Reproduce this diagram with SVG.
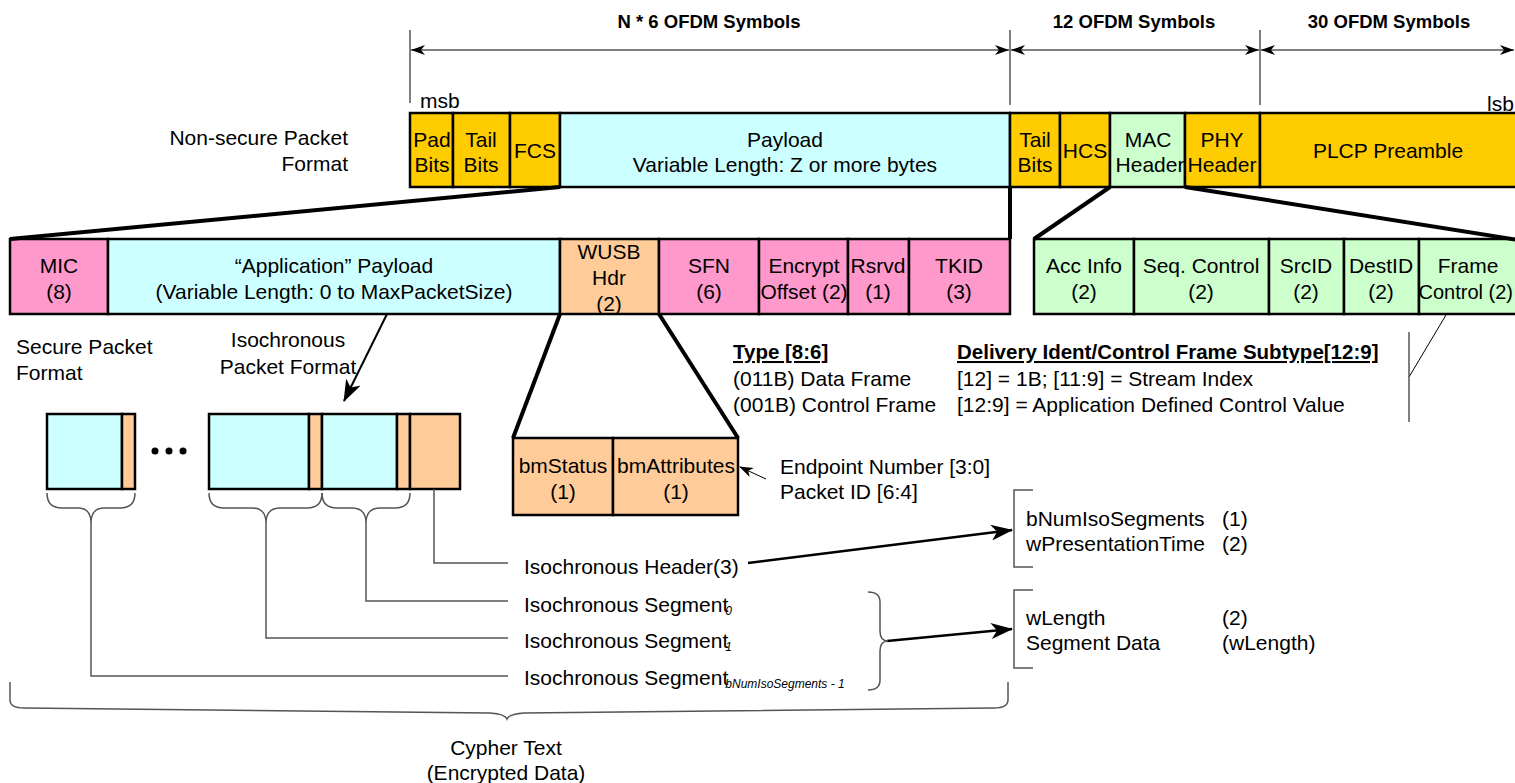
<svg xmlns="http://www.w3.org/2000/svg" width="1515" height="783" viewBox="0 0 1515 783">
  <style>
    text { font-family: "Liberation Sans", Arial, sans-serif; font-size: 21px; fill: #000; }
    .c { text-anchor: middle; }
    .r { text-anchor: end; }
    .dimt { font-weight: bold; font-size: 18.5px; text-anchor: middle; }
    .hd { font-weight: bold; font-size: 20.5px; text-decoration: underline; }
    .sub { font-size: 12px; font-style: italic; }
    .f { stroke: #000; stroke-width: 2.5; }
    .gold { fill: #FFCC00; }
    .cyan { fill: #CCFFFF; }
    .pink { fill: #FF99CC; }
    .green { fill: #CCFFCC; }
    .peach { fill: #FFCC99; }
    .thick { stroke: #000; stroke-width: 4; fill: none; }
    .thin { stroke: #555; stroke-width: 1.5; fill: none; }
    .dim { stroke: #555; stroke-width: 1.5; fill: none; }
    .conn { stroke: #000; stroke-width: 2.5; fill: none; }
  </style>
  <defs>
    <marker id="dimArrow" viewBox="0 0 14 10" refX="14" refY="5" markerWidth="14" markerHeight="10" markerUnits="userSpaceOnUse" orient="auto-start-reverse">
      <path d="M0,0 L14,5 L0,10 L4,5 Z" fill="#000"/>
    </marker>
    <marker id="bigArrow" viewBox="0 0 22 16" refX="21" refY="8" markerWidth="22" markerHeight="16" markerUnits="userSpaceOnUse" orient="auto">
      <path d="M0,0 L22,8 L0,16 L6,8 Z" fill="#000"/>
    </marker>
    <marker id="smallArrow" viewBox="0 0 14 10" refX="13" refY="5" markerWidth="14" markerHeight="10" markerUnits="userSpaceOnUse" orient="auto">
      <path d="M0,0 L14,5 L0,10 L4,5 Z" fill="#000"/>
    </marker>
  </defs>

  <!-- symbol-count dimensions across the top -->
  <g id="dimensions">
    <line class="dim" x1="410" y1="30" x2="410" y2="103"/>
    <line class="dim" x1="1010" y1="30" x2="1010" y2="105"/>
    <line class="dim" x1="1260" y1="30" x2="1260" y2="105"/>
    <line class="dim" x1="411" y1="50" x2="1009" y2="50" marker-start="url(#dimArrow)" marker-end="url(#dimArrow)"/>
    <line class="dim" x1="1011" y1="50" x2="1259" y2="50" marker-start="url(#dimArrow)" marker-end="url(#dimArrow)"/>
    <line class="dim" x1="1261" y1="50" x2="1514" y2="50" marker-start="url(#dimArrow)" marker-end="url(#dimArrow)"/>
    <text class="dimt" x="709" y="28">N * 6 OFDM Symbols</text>
    <text class="dimt" x="1134" y="28">12 OFDM Symbols</text>
    <text class="dimt" x="1389" y="28">30 OFDM Symbols</text>
    <text x="420" y="108">msb</text>
    <text x="1487" y="111">lsb</text>
  </g>

  <!-- side labels -->
  <g id="labels">
    <text class="r" x="348" y="145">Non-secure Packet</text>
    <text class="r" x="348" y="171">Format</text>
    <text x="16" y="354">Secure Packet</text>
    <text x="16" y="380">Format</text>
    <text class="c" x="288" y="347">Isochronous</text>
    <text class="c" x="288" y="374">Packet Format</text>
  </g>

  <!-- non-secure packet row -->
  <g id="pad-bits"><rect class="f gold" x="410" y="113" width="43" height="74"/><text class="c" x="432" y="147">Pad</text><text class="c" x="432" y="172">Bits</text></g>
  <g id="tail-bits-1"><rect class="f gold" x="453" y="113" width="57" height="74"/><text class="c" x="481" y="147">Tail</text><text class="c" x="481" y="172">Bits</text></g>
  <g id="fcs"><rect class="f gold" x="510" y="113" width="50" height="74"/><text class="c" x="535" y="158">FCS</text></g>
  <g id="payload"><rect class="f cyan" x="560" y="113" width="450" height="74"/><text class="c" x="785" y="147">Payload</text><text class="c" x="785" y="172">Variable Length: Z or more bytes</text></g>
  <g id="tail-bits-2"><rect class="f gold" x="1010" y="113" width="50" height="74"/><text class="c" x="1035" y="147">Tail</text><text class="c" x="1035" y="172">Bits</text></g>
  <g id="hcs"><rect class="f gold" x="1060" y="113" width="50" height="74"/><text class="c" x="1085" y="158">HCS</text></g>
  <g id="mac-header"><rect class="f green" x="1110" y="113" width="75" height="74"/><text class="c" x="1148" y="147">MAC</text><text class="c" x="1150" y="172">Header</text></g>
  <g id="phy-header"><rect class="f gold" x="1185" y="113" width="75" height="74"/><text class="c" x="1222" y="147">PHY</text><text class="c" x="1222" y="172">Header</text></g>
  <g id="plcp-preamble"><rect class="f gold" x="1260" y="113" width="258" height="74"/><text class="c" x="1388" y="158">PLCP Preamble</text></g>

  <!-- secure packet row -->
  <g id="mic"><rect class="f pink" x="10" y="239" width="98" height="75"/><text class="c" x="59" y="273">MIC</text><text class="c" x="59" y="299">(8)</text></g>
  <g id="app-payload"><rect class="f cyan" x="108" y="239" width="452" height="75"/><text class="c" x="334" y="273">“Application” Payload</text><text class="c" x="334" y="299">(Variable Length:  0 to MaxPacketSize)</text></g>
  <g id="wusb-hdr"><rect class="f peach" x="560" y="239" width="99" height="75"/><text class="c" x="609" y="259">WUSB</text><text class="c" x="609" y="285">Hdr</text><text class="c" x="609" y="311">(2)</text></g>
  <g id="sfn"><rect class="f pink" x="659" y="239" width="100" height="75"/><text class="c" x="709" y="273">SFN</text><text class="c" x="709" y="299">(6)</text></g>
  <g id="encrypt-offset"><rect class="f pink" x="759" y="239" width="89" height="75"/><text class="c" x="804" y="273">Encrypt</text><text class="c" x="804" y="299">Offset (2)</text></g>
  <g id="rsrvd"><rect class="f pink" x="848" y="239" width="61" height="75"/><text class="c" x="878" y="273">Rsrvd</text><text class="c" x="878" y="299">(1)</text></g>
  <g id="tkid"><rect class="f pink" x="909" y="239" width="101" height="75"/><text class="c" x="959" y="273">TKID</text><text class="c" x="959" y="299">(3)</text></g>

  <!-- MAC header fields -->
  <g id="acc-info"><rect class="f green" x="1034" y="239" width="100" height="75"/><text class="c" x="1084" y="273">Acc Info</text><text class="c" x="1084" y="299">(2)</text></g>
  <g id="seq-control"><rect class="f green" x="1134" y="239" width="135" height="75"/><text class="c" x="1201" y="273">Seq. Control</text><text class="c" x="1201" y="299">(2)</text></g>
  <g id="src-id"><rect class="f green" x="1269" y="239" width="75" height="75"/><text class="c" x="1306" y="273">SrcID</text><text class="c" x="1306" y="299">(2)</text></g>
  <g id="dest-id"><rect class="f green" x="1344" y="239" width="75" height="75"/><text class="c" x="1381" y="273">DestID</text><text class="c" x="1381" y="299">(2)</text></g>
  <g id="frame-control"><rect class="f green" x="1419" y="239" width="99" height="75"/><text class="c" x="1468" y="273">Frame</text><text class="r" x="1513" y="299" style="font-size:20px">Control (2)</text></g>

  <!-- WUSB header fields -->
  <g id="bm-status"><rect class="f peach" x="513" y="438" width="100" height="77"/><text class="c" x="563" y="473">bmStatus</text><text class="c" x="563" y="499">(1)</text></g>
  <g id="bm-attributes"><rect class="f peach" x="613" y="438" width="125" height="77"/><text class="c" x="676" y="473">bmAttributes</text><text class="c" x="676" y="499">(1)</text></g>

  <!-- isochronous packet layout -->
  <g id="iso-segment-last">
    <rect class="f cyan" x="47" y="414" width="75" height="75"/>
    <rect class="f peach" x="122" y="414" width="13" height="75"/>
  </g>
  <g id="ellipsis">
    <circle cx="155" cy="451" r="3.5"/><circle cx="169" cy="451" r="3.5"/><circle cx="183" cy="451" r="3.5"/>
  </g>
  <g id="iso-segments">
    <rect class="f cyan" x="209" y="414" width="100" height="75"/>
    <rect class="f peach" x="309" y="414" width="13" height="75"/>
    <rect class="f cyan" x="322" y="414" width="75" height="75"/>
    <rect class="f peach" x="397" y="414" width="13" height="75"/>
    <rect class="f peach" x="410" y="414" width="50" height="75"/>
  </g>

  <!-- field descriptions -->
  <g id="type-notes">
    <text class="hd" x="733" y="359">Type [8:6]</text>
    <text x="733" y="386">(011B) Data Frame</text>
    <text x="733" y="412">(001B) Control Frame</text>
  </g>
  <g id="delivery-notes">
    <text class="hd" x="957" y="359">Delivery Ident/Control Frame Subtype[12:9]</text>
    <text x="957" y="386">[12] = 1B; [11:9] = Stream Index</text>
    <text x="957" y="412">[12:9] = Application Defined Control Value</text>
  </g>
  <g id="endpoint-notes">
    <text x="780" y="474">Endpoint Number [3:0]</text>
    <text x="780" y="499">Packet ID [6:4]</text>
  </g>
  <g id="iso-labels">
    <text x="524" y="574">Isochronous Header(3)</text>
    <text x="524" y="612">Isochronous Segment<tspan class="sub" dx="-3" dy="3">0</tspan></text>
    <text x="524" y="648">Isochronous Segment<tspan class="sub" dx="-3" dy="3">1</tspan></text>
    <text x="524" y="685">Isochronous Segment<tspan class="sub" dx="-3" dy="3">bNumIsoSegments - 1</tspan></text>
  </g>
  <g id="iso-header-fields">
    <path class="thin" d="M1033,490 H1014 V567 H1033"/>
    <text x="1026" y="526">bNumIsoSegments</text>
    <text x="1222" y="526">(1)</text>
    <text x="1026" y="551">wPresentationTime</text>
    <text x="1222" y="551">(2)</text>
  </g>
  <g id="iso-segment-fields">
    <path class="thin" d="M1033,590 H1014 V668 H1033"/>
    <text x="1026" y="625">wLength</text>
    <text x="1222" y="625">(2)</text>
    <text x="1026" y="650">Segment Data</text>
    <text x="1222" y="650">(wLength)</text>
  </g>
  <g id="cypher-text">
    <text class="c" x="506" y="755">Cypher Text</text>
    <text class="c" x="506" y="780">(Encrypted Data)</text>
  </g>

  <!-- connectors -->
  <g id="connectors">
    <line class="thick" x1="560" y1="187" x2="10" y2="239"/>
    <line class="thick" x1="1010" y1="187" x2="1010" y2="239"/>
    <line class="thick" x1="1110" y1="187" x2="1034" y2="239"/>
    <line class="thick" x1="1185" y1="187" x2="1518" y2="240"/>
    <line class="thick" x1="560" y1="314" x2="513" y2="438"/>
    <line class="thick" x1="659" y1="314" x2="738" y2="438"/>
    <line stroke="#000" stroke-width="1" x1="1446" y1="315" x2="1409" y2="377"/>
    <line class="thin" x1="1409" y1="332" x2="1409" y2="422"/>
    <line stroke="#000" stroke-width="2" x1="387" y1="314" x2="344" y2="401" marker-end="url(#bigArrow)"/>
    <line stroke="#000" stroke-width="1" x1="766" y1="479" x2="740" y2="467" marker-end="url(#smallArrow)"/>
    <line class="conn" x1="748" y1="563" x2="1012" y2="530" marker-end="url(#bigArrow)"/>
    <line class="conn" x1="887" y1="641" x2="1012" y2="629" marker-end="url(#bigArrow)"/>
    <!-- braces under the isochronous blocks -->
    <path class="thin" d="M47,493 Q47,508 62,508 H78 Q91,508 91,523 Q91,508 104,508 H120 Q135,508 135,493"/>
    <path class="thin" d="M209,493 Q209,508 224,508 H252 Q266,508 266,523 Q266,508 280,508 H307 Q322,508 322,493"/>
    <path class="thin" d="M322,493 Q322,508 337,508 H352 Q366,508 366,523 Q366,508 380,508 H395 Q410,508 410,493"/>
    <path class="thin" d="M434,489 V563 H508"/>
    <path class="thin" d="M366,523 V601 H508"/>
    <path class="thin" d="M266,523 V638 H508"/>
    <path class="thin" d="M91,523 V676 H508"/>
    <!-- brace around the segment labels -->
    <path class="thin" d="M868,592 Q880,592 880,602 V631 Q880,641 888,641 Q880,641 880,651 V680 Q880,690 868,690"/>
    <!-- brace across the encrypted part -->
    <path class="thin" d="M10,682 V700 Q10,708 24,708 L490,713 Q505,714 507,719 Q509,714 524,713 L994,708 Q1008,708 1008,700 V682"/>
  </g>
</svg>
